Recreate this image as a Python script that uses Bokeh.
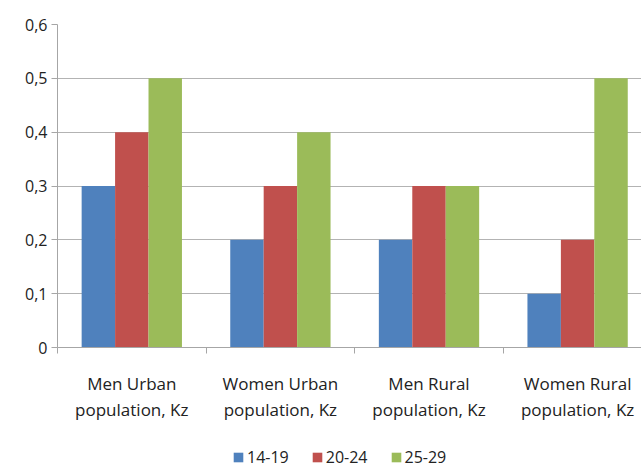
from bokeh.plotting import figure
from bokeh.layouts import column
from bokeh.models import Range1d, FixedTicker, Legend, LegendItem
from bokeh.embed import file_html
from bokeh.resources import INLINE
import numpy as np

categories = ["Men Urban\npopulation, Kz", "Women Urban\npopulation, Kz",
              "Men Rural\npopulation, Kz", "Women Rural\npopulation, Kz"]
series_names = ["14-19", "20-24", "25-29"]
s_14_19 = [0.3, 0.2, 0.2, 0.1]
s_20_24 = [0.4, 0.3, 0.3, 0.2]
s_25_29 = [0.5, 0.4, 0.3, 0.5]
y_ticks = [0, 0.1, 0.2, 0.3, 0.4, 0.5, 0.6]
y_tick_labels = ["0", "0,1", "0,2", "0,3", "0,4", "0,5", "0,6"]

colors = ["#4F81BD", "#C0504D", "#9BBB59"]
FONT = "Open Sans"
series = [s_14_19, s_20_24, s_25_29]

p = figure(width=641, height=444, output_backend="svg", toolbar_location=None,
           x_range=Range1d(0, 3.93), y_range=Range1d(0, 0.6),
           min_border_left=57, min_border_right=0, min_border_top=24, min_border_bottom=97)
p.outline_line_color = None
p.background_fill_color = "white"
p.border_fill_color = "white"

idx = np.arange(len(categories))
bw = 0.225
for k, (vals, c) in enumerate(zip(series, colors)):
    p.vbar(x=idx + 0.5 + (k - 1) * bw, top=vals, width=bw, bottom=0,
           fill_color=c, line_color=None)

# x axis
xa = p.xaxis[0]
xa.ticker = FixedTicker(ticks=list(idx + 0.5), minor_ticks=list(range(len(categories) + 1)))
xa.major_label_overrides = {float(i + 0.5): categories[i] for i in idx}
xa.major_tick_line_color = None
xa.minor_tick_line_color = "#a6a6a6"
xa.minor_tick_in = 0
xa.minor_tick_out = 6
xa.axis_line_color = "#a6a6a6"
xa.major_label_text_font = FONT
xa.major_label_text_font_size = "17px"
xa.major_label_text_color = "#222222"
xa.major_label_text_line_height = 1.15
xa.major_label_standoff = 18

# y axis
ya = p.yaxis[0]
ya.ticker = FixedTicker(ticks=y_ticks, minor_ticks=[])
ya.major_label_overrides = {float(t): l for t, l in zip(y_ticks, y_tick_labels)}
ya.axis_line_color = "#a6a6a6"
ya.major_tick_line_color = "#a6a6a6"
ya.major_tick_in = 0
ya.major_tick_out = 6
ya.major_label_text_font = FONT
ya.major_label_text_font_size = "16px"
ya.major_label_text_color = "#222222"
ya.major_label_standoff = 4

p.xgrid.grid_line_color = None
p.ygrid.grid_line_color = "#b3b3b3"
p.ygrid.ticker = FixedTicker(ticks=y_ticks)

# legend strip below the chart (its bars lie outside its visible range; only the legend shows)
pl = figure(width=641, height=24, output_backend="svg", toolbar_location=None,
            x_axis_location=None, y_axis_location=None,
            x_range=Range1d(0, 4), y_range=Range1d(10, 11),
            min_border_left=0, min_border_right=0, min_border_top=0, min_border_bottom=0)
pl.outline_line_color = None
pl.xgrid.grid_line_color = None
pl.ygrid.grid_line_color = None
legend_renderers = [pl.vbar(x=idx + 0.5, top=vals, width=bw, fill_color=c, line_color=None)
                    for vals, c in zip(series, colors)]
legend = Legend(items=[LegendItem(label=n, renderers=[r]) for n, r in zip(series_names, legend_renderers)],
                orientation="horizontal", location=(175, 0))
legend.label_text_font = FONT
legend.label_text_font_size = "16px"
legend.label_text_color = "#222222"
legend.glyph_width = 12
legend.glyph_height = 12
legend.spacing = 22
legend.label_standoff = 3
legend.padding = 1
legend.margin = 0
legend.border_line_color = None
legend.background_fill_alpha = 0
pl.add_layout(legend, "center")

open("out.html", "w").write(file_html(column(p, pl, spacing=0), INLINE))
